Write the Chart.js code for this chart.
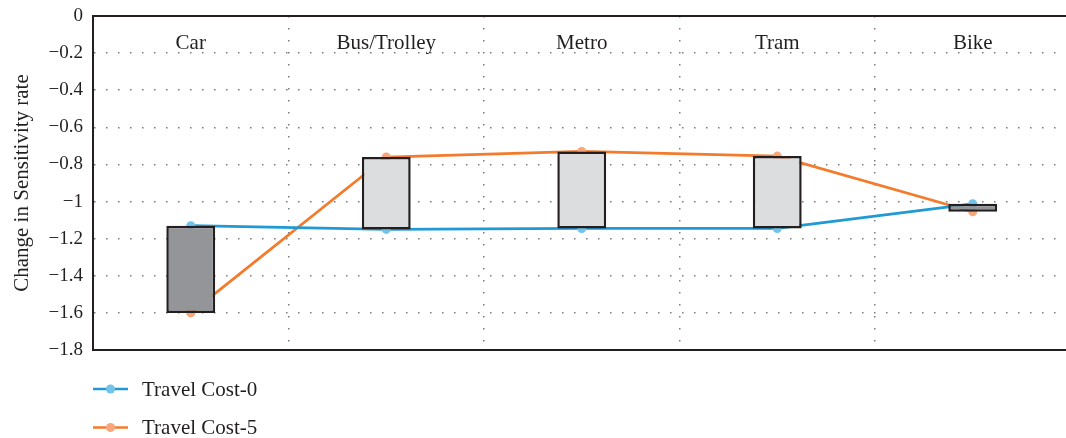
<!DOCTYPE html>
<html lang="en">
<head>
    <meta charset="UTF-8">
    <title>Change in Sensitivity rate</title>
    <script src="https://cdn.jsdelivr.net/npm/chart.js"></script>
    <style>
        html, body { margin: 0; padding: 0; background: #fff; overflow: hidden; }
        .chart-container { position: relative; width: 1075px; height: 438px; }
    </style>
</head>
<body>
    <div class="chart-container">
        <canvas id="sensChart"></canvas>
    </div>

    <script>
        // data
        var categories = ['Car', 'Bus/Trolley', 'Metro', 'Tram', 'Bike'];
        var travelCost0 = [-1.13, -1.15, -1.145, -1.145, -1.012];
        var travelCost5 = [-1.60, -0.76, -0.73, -0.755, -1.055];
        var yTicks = [0, -0.2, -0.4, -0.6, -0.8, -1, -1.2, -1.4, -1.6, -1.8];

        var ink = '#231F20';
        var serif = "'Liberation Serif', 'Times New Roman', serif";

        // up/down bars between the two series
        var barRanges = categories.map(function (c, i) { return [travelCost0[i], travelCost5[i]]; });
        var barColors = categories.map(function (c, i) {
            return travelCost5[i] > travelCost0[i] ? '#DCDDDF' : '#939598';
        });

        function fmtTick(v) {
            if (Math.abs(v) < 1e-9) return '0';
            var s = Math.abs(v).toFixed(1).replace(/\.0$/, '');
            return (v < 0 ? '\u2212' : '') + s;
        }

        // category names inside the top of the plot, top border, and legend
        var extras = {
            id: 'extras',
            afterDraw: function (chart) {
                var ctx = chart.ctx;
                var area = chart.chartArea;
                var xs = chart.scales.x;
                ctx.save();
                ctx.strokeStyle = ink;
                ctx.lineWidth = 2;
                ctx.beginPath();
                ctx.moveTo(area.left - 1, area.top);
                ctx.lineTo(area.right, area.top);
                ctx.stroke();

                ctx.fillStyle = ink;
                ctx.font = '21px ' + serif;
                ctx.textAlign = 'center';
                ctx.textBaseline = 'alphabetic';
                categories.forEach(function (c, i) {
                    ctx.fillText(c, xs.getPixelForValue(i), area.top + 33);
                });

                // legend
                var lineSets = chart.data.datasets.filter(function (d) { return d.type === 'line'; });
                lineSets.forEach(function (d, k) {
                    var y = 389 + k * 38.5;
                    ctx.strokeStyle = d.borderColor;
                    ctx.lineWidth = 2.5;
                    ctx.beginPath();
                    ctx.moveTo(93, y);
                    ctx.lineTo(128, y);
                    ctx.stroke();
                    ctx.fillStyle = d.pointBackgroundColor;
                    ctx.beginPath();
                    ctx.arc(110.5, y, 4.5, 0, Math.PI * 2);
                    ctx.fill();
                    ctx.fillStyle = ink;
                    ctx.font = '21px ' + serif;
                    ctx.textAlign = 'left';
                    ctx.textBaseline = 'middle';
                    ctx.fillText(d.label, 142, y + 1);
                });
                ctx.restore();
            }
        };

        var ctx = document.getElementById('sensChart').getContext('2d');
        var sensChart = new Chart(ctx, {
            data: {
                labels: categories,
                datasets: [{
                    type: 'bar',
                    label: 'Up/Down',
                    data: barRanges,
                    backgroundColor: barColors,
                    borderColor: ink,
                    borderWidth: 2.5,
                    borderSkipped: false,
                    barPercentage: 0.25,
                    categoryPercentage: 1,
                    order: 0
                }, {
                    type: 'line',
                    label: 'Travel Cost-0',
                    data: travelCost0,
                    borderColor: '#1F9AD6',
                    pointBackgroundColor: '#72C3EA',
                    pointBorderWidth: 0,
                    pointRadius: 4.5,
                    borderWidth: 2.8,
                    tension: 0,
                    fill: false,
                    order: 1
                }, {
                    type: 'line',
                    label: 'Travel Cost-5',
                    data: travelCost5,
                    borderColor: '#F37B2B',
                    pointBackgroundColor: '#F8A679',
                    pointBorderWidth: 0,
                    pointRadius: 4.5,
                    borderWidth: 2.8,
                    tension: 0,
                    fill: false,
                    order: 1
                }]
            },
            options: {
                responsive: true,
                maintainAspectRatio: false,
                animation: false,
                layout: { padding: { left: 0, right: 3, top: 16, bottom: 88 } },
                plugins: {
                    legend: { display: false },
                    tooltip: { enabled: false }
                },
                scales: {
                    x: {
                        type: 'category',
                        offset: true,
                        grid: { offset: true, color: '#7a7a7a', lineWidth: 1.5, drawTicks: false },
                        border: { display: true, color: ink, width: 2, dash: [1.5, 10.5] },
                        ticks: { display: false }
                    },
                    y: {
                        min: -1.8,
                        max: 0,
                        afterBuildTicks: function (scale) {
                            scale.ticks = yTicks.map(function (v) { return { value: v }; });
                        },
                        afterFit: function (scale) {
                            scale.width = 93;
                            scale.paddingTop = 0;
                            scale.paddingBottom = 0;
                        },
                        grid: { color: '#7a7a7a', lineWidth: 1.5, drawTicks: false },
                        border: { display: true, color: ink, width: 2, dash: [1.5, 10.5] },
                        ticks: {
                            padding: 10,
                            color: ink,
                            font: { family: serif, size: 19, lineHeight: 1 },
                            callback: function (v) { return fmtTick(v); }
                        },
                        title: {
                            display: true,
                            text: 'Change in Sensitivity rate',
                            color: ink,
                            font: { family: serif, size: 21 },
                            padding: { top: 10, bottom: 0 }
                        }
                    }
                }
            },
            plugins: [extras]
        });
    </script>
</body>
</html>
